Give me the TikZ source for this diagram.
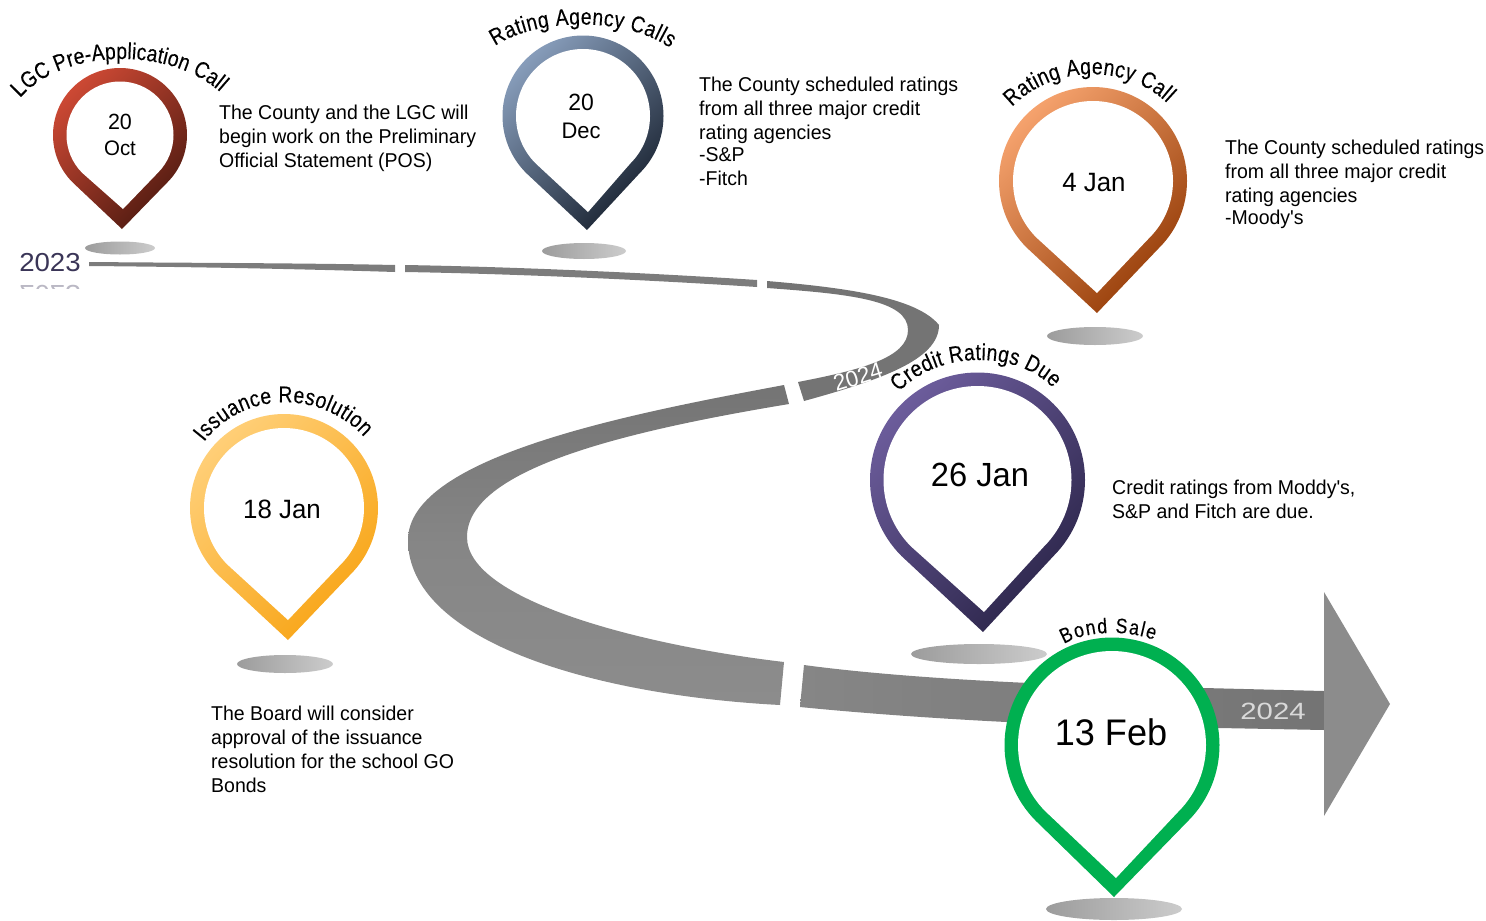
\documentclass[tikz,border=0pt]{standalone}
\usepackage{fontspec}
\setmainfont[FakeStretch=0.975,Ligatures=TeXOff]{Liberation Sans}
\newfontfamily\archfont[FakeStretch=0.84,FakeBold=0.25]{Liberation Sans}
\usetikzlibrary{decorations.text}
\definecolor{roadgrey}{HTML}{7C7C7C}
\definecolor{roaddark}{HTML}{747474}
\definecolor{roadmid}{HTML}{868686}
\definecolor{roadlight}{HTML}{8C8C8C}
\definecolor{yeartext}{HTML}{3A3557}
\definecolor{redA}{HTML}{D04A35}
\definecolor{redB}{HTML}{4E1A10}
\definecolor{blueA}{HTML}{8AA0BE}
\definecolor{blueB}{HTML}{17202E}
\definecolor{orangeA}{HTML}{F8A570}
\definecolor{orangeB}{HTML}{933A05}
\definecolor{purpleA}{HTML}{6E5E9E}
\definecolor{purpleB}{HTML}{2A2448}
\definecolor{yellowA}{HTML}{FFD07A}
\definecolor{yellowB}{HTML}{F8A414}
\definecolor{greenA}{HTML}{00B050}
\definecolor{groundA}{HTML}{9C9C9C}
\definecolor{groundB}{HTML}{CCCCCC}
\tikzset{
	pinred/.style={left color=redA,right color=redB,shading angle=45},
	pinblue/.style={left color=blueA,right color=blueB,shading angle=45},
	pinorange/.style={left color=orangeA,right color=orangeB,shading angle=45},
	pinpurple/.style={left color=purpleA,right color=purpleB,shading angle=45},
	pinyellow/.style={left color=yellowA,right color=yellowB,shading angle=45},
	pingreen/.style={left color=greenA,right color=greenA},
	ground/.style={left color=groundA,right color=groundB},
	infotext/.style={anchor=north west,inner sep=0pt,align=left,font=\fontsize{20}{24}\selectfont},
	datetext/.style={inner sep=0pt,align=center,font=\fontsize{#1}{#1}\selectfont},
	archlabel/.style n args={2}{decorate,decoration={text along path,text align={fit to path},text={|\fontsize{#1}{#1}\archfont|#2}}},
}
% style, centre, outer radius, inner radius, outer tip, inner tip
\newcommand{\pinmark}[6]{
	\coordinate (#1c) at (#2);
	\coordinate (#1t) at (#5);
	\coordinate (#1i) at (#6);
	\shade[#1] (#1t) -- ([shift={(45:#3)}]#1c) arc[start angle=45,end angle=-225,radius=#3] -- cycle;
	\fill[white] (#1i) -- ([shift={(45:#4)}]#1c) arc[start angle=45,end angle=-225,radius=#4] -- cycle;
}

\begin{document}
\begin{tikzpicture}[x=1pt, y=-1pt]
	\useasboundingbox (0,0) rectangle (1486,921);
	% road
	\fill[roadgrey] (89,262) .. controls (200,263) and (300,263) .. (395,265) -- (395,272) .. controls (300,269) and (200,267) .. (89,266) -- cycle;
	\fill[roadgrey] (405,265) .. controls (520,267) and (650,273) .. (757,280) -- (757,287) .. controls (650,280) and (520,274) .. (405,272) -- cycle;
	\fill[roaddark] (767,281) .. controls (850,288) and (917,298) .. (939,325) .. controls (939,360) and (880,380) .. (804,401) -- (798,382) .. controls (860,370) and (908,358) .. (908,330) .. controls (908,300) and (850,294) .. (767,288) -- cycle;
	\shade[top color=roaddark,bottom color=roadlight,middle color=roadmid] (784,385) .. controls (640,412) and (408,455) .. (408,540) .. controls (408,640) and (590,695) .. (780,705) -- (784,662) .. controls (640,645) and (467,600) .. (467,537) .. controls (467,470) and (620,432) .. (789,404) -- cycle;
	\shade[left color=roadmid,right color=roaddark] (804,665) .. controls (900,678) and (1050,686) .. (1204,688) -- (1324,691) -- (1324,730) -- (1219,728) .. controls (1100,728) and (930,720) .. (800,707) -- cycle;
	\fill[roadlight] (1324,592) -- (1390,704) -- (1324,816) -- cycle;
	% years
	\node[inner sep=0pt,xscale=1.09,text=yeartext,font=\fontsize{26}{26}\selectfont] (y2023) at (50,263) {2023};
	\begin{scope}
		\clip (15,279) rectangle (85,288);
		\node[inner sep=0pt,xscale=1.09,yscale=-1,text=yeartext!35,font=\fontsize{26}{26}\selectfont] (y2023r) at (50,294) {2023};
	\end{scope}
	\node[inner sep=0pt,rotate=17,text=white,font=\fontsize{23}{23}\selectfont] (y2024a) at (858,377) {2024};
	\node[inner sep=0pt,xscale=1.28,text=white!85!black,font=\fontsize{23.5}{23.5}\selectfont] (y2024b) at (1273,711) {2024};
	% ground shadows
	\shade[ground] (120,248) ellipse [x radius=35,y radius=6.5];
	\shade[ground] (584,251) ellipse [x radius=42,y radius=8];
	\shade[ground] (1095,336) ellipse [x radius=48,y radius=9];
	\shade[ground] (285,664) ellipse [x radius=48,y radius=9];
	\shade[ground] (979,654) ellipse [x radius=68,y radius=10];
	\shade[ground] (1114,909) ellipse [x radius=68,y radius=11];
	% pins
	\pinmark{pinred}{120,135}{67}{53.5}{122,229}{123,209}
	\pinmark{pinblue}{583,116}{80.5}{67}{587,230}{588,212}
	\pinmark{pinorange}{1093,181}{94}{80}{1097,313}{1097,293}
	\pinmark{pinyellow}{284,508}{94}{80}{288,640}{288,620}
	\pinmark{pinpurple}{977.5,480}{107.5}{94}{983,632}{984,612}
	\pinmark{pingreen}{1112,745}{107.5}{94}{1114,897}{1116,878}
	% dates
	\node[datetext=22] (d1a) at (120,122) {20};
	\node[datetext=21] (d1b) at (120,148) {Oct};
	\node[datetext=23.5] (d2a) at (581,102) {20};
	\node[datetext=22.5] (d2b) at (581,131) {Dec};
	\node[datetext=26.5] (d3) at (1094,183) {4 Jan};
	\node[datetext=26.5] (d4) at (282,509) {18 Jan};
	\node[datetext=33.5] (d5) at (980,475) {26 Jan};
	\node[datetext=37] (d6) at (1111,732) {13 Feb};
	% arched titles
	\path[archlabel={23}{LGC Pre-Application Call}] (20,98) .. controls (65,47) and (170,47) .. (220,92);
	\path[archlabel={23}{Rating Agency Calls}] (495,46) .. controls (538,17) and (627,17) .. (670,48);
	\path[archlabel={23}{Rating Agency Call}] (1012,107) .. controls (1054,64) and (1126,64) .. (1167,103);
	\path[archlabel={23}{Credit Ratings Due}] (899,392) .. controls (938,350) and (1017,350) .. (1053,388);
	\path[archlabel={23}{Issuance Resolution}] (204,442) .. controls (244,390) and (321,390) .. (364,437);
	\path[archlabel={21}{Bond Sale}] (1064,644) .. controls (1087,630) and (1128,630) .. (1154,640);
	% descriptions
	\node[infotext] (t1) at (219,105) {The County and the LGC will\\begin work on the Preliminary\\Official Statement (POS)};
	\node[infotext] (t2) at (699,77) {The County scheduled ratings\\from all three major credit\\rating agencies\\[-2pt]-S\&P\\-Fitch};
	\node[infotext] (t3) at (1225,140) {The County scheduled ratings\\from all three major credit\\rating agencies\\[-2pt]-Moody's};
	\node[infotext] (t4) at (1112,480) {Credit ratings from Moddy's,\\S\&P and Fitch are due.};
	\node[infotext] (t5) at (211,706) {The Board will consider\\approval of the issuance\\resolution for the school GO\\Bonds};
\end{tikzpicture}
\end{document}
